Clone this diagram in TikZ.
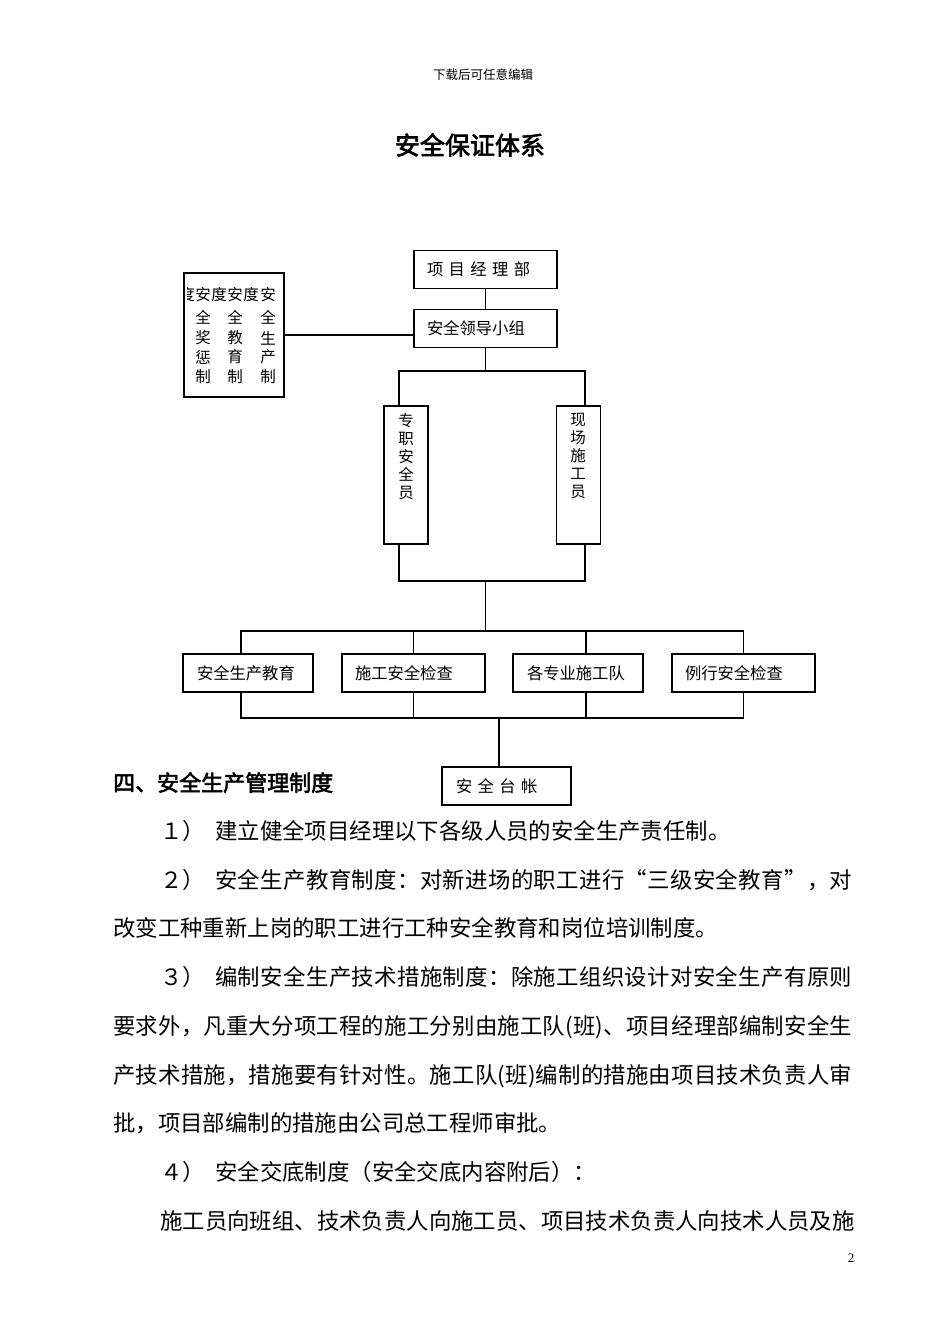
\documentclass[tikz,border=0pt]{standalone}
\usepackage{fontspec}
\setmainfont{Liberation Serif}
\newfontfamily\cjk{Noto Sans CJK SC}
\newfontfamily\cjkb[FakeBold=2.5]{Noto Sans CJK SC}
\def\SprdStop{SprdStop}
\newcommand\spreadtext[2]{\hbox to #1{\sprdA#2\SprdStop}}
\def\sprdA#1{#1\sprdB}
\def\sprdB#1{\ifx#1\SprdStop\else\hfil#1\expandafter\sprdB\fi}
\tikzset{
  box/.style={draw=black, line width=1.2pt, inner ysep=0pt, minimum height=38pt, align=left,
    font=\cjk\fontsize{16.3}{18}\selectfont},
  vbox/.style={draw=black, line width=1.2pt, minimum width=44pt, minimum height=138pt, inner sep=0pt},
  vtext/.style={anchor=north, inner sep=0pt, align=center, font=\cjk\fontsize{15.5}{18}\selectfont},
  ltext/.style={inner sep=0pt, font=\cjk\fontsize{15.5}{15.5}\selectfont},
  conn/.style={line width=1.2pt},
  body/.style={anchor=base west, inner sep=0pt, font=\cjk\fontsize{22.4}{24}\selectfont},
}
\begin{document}
\begin{tikzpicture}[x=1pt,y=-1pt]
\fill[white] (0,0) rectangle (950,1344);
\useasboundingbox (0,0) rectangle (950,1344);

% header and title
\node[inner sep=0pt, font=\cjk\fontsize{12.5}{13}\selectfont] (hdr) at (483,75) {下载后可任意编辑};
\node[inner sep=0pt, font=\cjkb\fontsize{25}{26}\selectfont] (ttl) at (470,145) {安全保证体系};

% top boxes
\node[box, minimum width=143pt, text width=117pt, inner xsep=13pt] (pm) at (485.5,269.5) {项 目 经 理 部};
\node[box, minimum width=143pt, text width=117pt, inner xsep=13pt] (lg) at (485.5,328.5) {安全领导小组};

% left box with vertical columns
\node[draw=black, line width=1.2pt, minimum width=100pt, minimum height=124pt, inner sep=0pt] (lb) at (234,335) {};
\begin{scope}
\clip (187.5,275) rectangle (283,396);
\node[ltext] (c0) at (187,295) {度};
\end{scope}
\node[ltext] (r1a) at (203,295) {安};
\node[ltext] (r1b) at (219,295) {度};
\node[ltext] (r1c) at (235,295) {安};
\node[ltext] (r1d) at (251,295) {度};
\node[ltext] (r1e) at (268,295) {安};
\foreach \x/\a/\b/\c/\d in {203/全/奖/惩/制, 235/全/教/育/制, 268/全/生/产/制}{
  \node[ltext] at (\x,317) {\a};
  \node[ltext] at (\x,338) {\b};
  \node[ltext] at (\x,357) {\c};
  \node[ltext] at (\x,377) {\d};
}

% vertical boxes
\node[vbox] (zz) at (406,475) {};
\node[vtext] (zzt) at (406,413) {专\\职\\安\\全\\员};
\node[vbox] (xc) at (578.5,475) {};
\node[vtext] (xct) at (578,413) {现\\场\\施\\工\\员};

% row of four boxes
\node[box, minimum width=130pt, text width=102pt, inner xsep=14pt] (b1) at (248,673) {安全生产教育};
\node[box, minimum width=143pt, text width=117pt, inner xsep=13pt] (b2) at (413.5,673) {施工安全检查};
\node[box, minimum width=130pt, text width=102pt, inner xsep=14pt] (b3) at (578,673) {各专业施工队};
\node[box, minimum width=143pt, text width=117pt, inner xsep=13pt] (b4) at (743.5,673) {例行安全检查};
\node[box, minimum width=129pt, text width=101pt, inner xsep=14pt] (tz) at (506.5,786) {安 全 台 帐};

% junction coordinates
\coordinate (j1) at (485.5,371);
\coordinate (j2) at (485.5,581);
\coordinate (j3) at (485.5,631);
\coordinate (j4) at (499,718);

% connectors
\draw[conn] (pm.south) -- (lg.north);
\draw[conn] (lb.east) -- (lb.east -| lg.west);
\draw[conn] (lg.south) -- (j1);
\draw[conn] ([xshift=-7pt]zz.north) |- (j1) -| ([xshift=6.5pt]xc.north);
\draw[conn] ([xshift=-7pt]zz.south) |- (j2) -| ([xshift=6.5pt]xc.south);
\draw[conn] (j2) -- (j3);
\draw[conn] ([xshift=-7pt]b1.north) |- (j3) -| (b4.north);
\draw[conn] (b2.north) -- (b2.north |- j3);
\draw[conn] ([xshift=8pt]b3.north) -- ([xshift=8pt]b3.north |- j3);
\draw[conn] ([xshift=-7pt]b1.south) |- (j4) -| (b4.south);
\draw[conn] (b2.south) -- (b2.south |- j4);
\draw[conn] ([xshift=8pt]b3.south) -- ([xshift=8pt]b3.south |- j4);
\draw[conn] (j4) -- (j4 |- tz.north);

% body text
\node[anchor=base west, inner sep=0pt, font=\cjkb\fontsize{22}{24}\selectfont] (h4) at (113,791) {四、安全生产管理制度};
\node[body] (l1n) at (160,839) {１）};
\node[body] (l1) at (215,839) {建立健全项目经理以下各级人员的安全生产责任制。};
\node[body] (l2n) at (160,888) {２）};
\node[body] (l2) at (215,888) {\spreadtext{637pt}{安全生产教育制度：对新进场的职工进行“三级安全教育”，对}};
\node[body] (l3) at (113,936) {改变工种重新上岗的职工进行工种安全教育和岗位培训制度。};
\node[body] (l4n) at (160,985) {３）};
\node[body] (l4) at (215,985) {\spreadtext{637pt}{编制安全生产技术措施制度：除施工组织设计对安全生产有原则}};
\node[body] (l5) at (113,1034) {\spreadtext{739pt}{要求外，凡重大分项工程的施工分别由施工队(班)、项目经理部编制安全生}};
\node[body] (l6) at (113,1083) {\spreadtext{739pt}{产技术措施，措施要有针对性。施工队(班)编制的措施由项目技术负责人审}};
\node[body] (l7) at (113,1131) {批，项目部编制的措施由公司总工程师审批。};
\node[body] (l8n) at (160,1180) {４）};
\node[body] (l8) at (215,1180) {安全交底制度（安全交底内容附后）：};
\node[body] (l9) at (160,1229) {\spreadtext{692pt}{施工员向班组、技术负责人向施工员、项目技术负责人向技术人员及施}};

% page number
\node[inner sep=0pt, font=\fontsize{13}{14}\selectfont] (pg) at (851,1258) {2};
\end{tikzpicture}
\end{document}
